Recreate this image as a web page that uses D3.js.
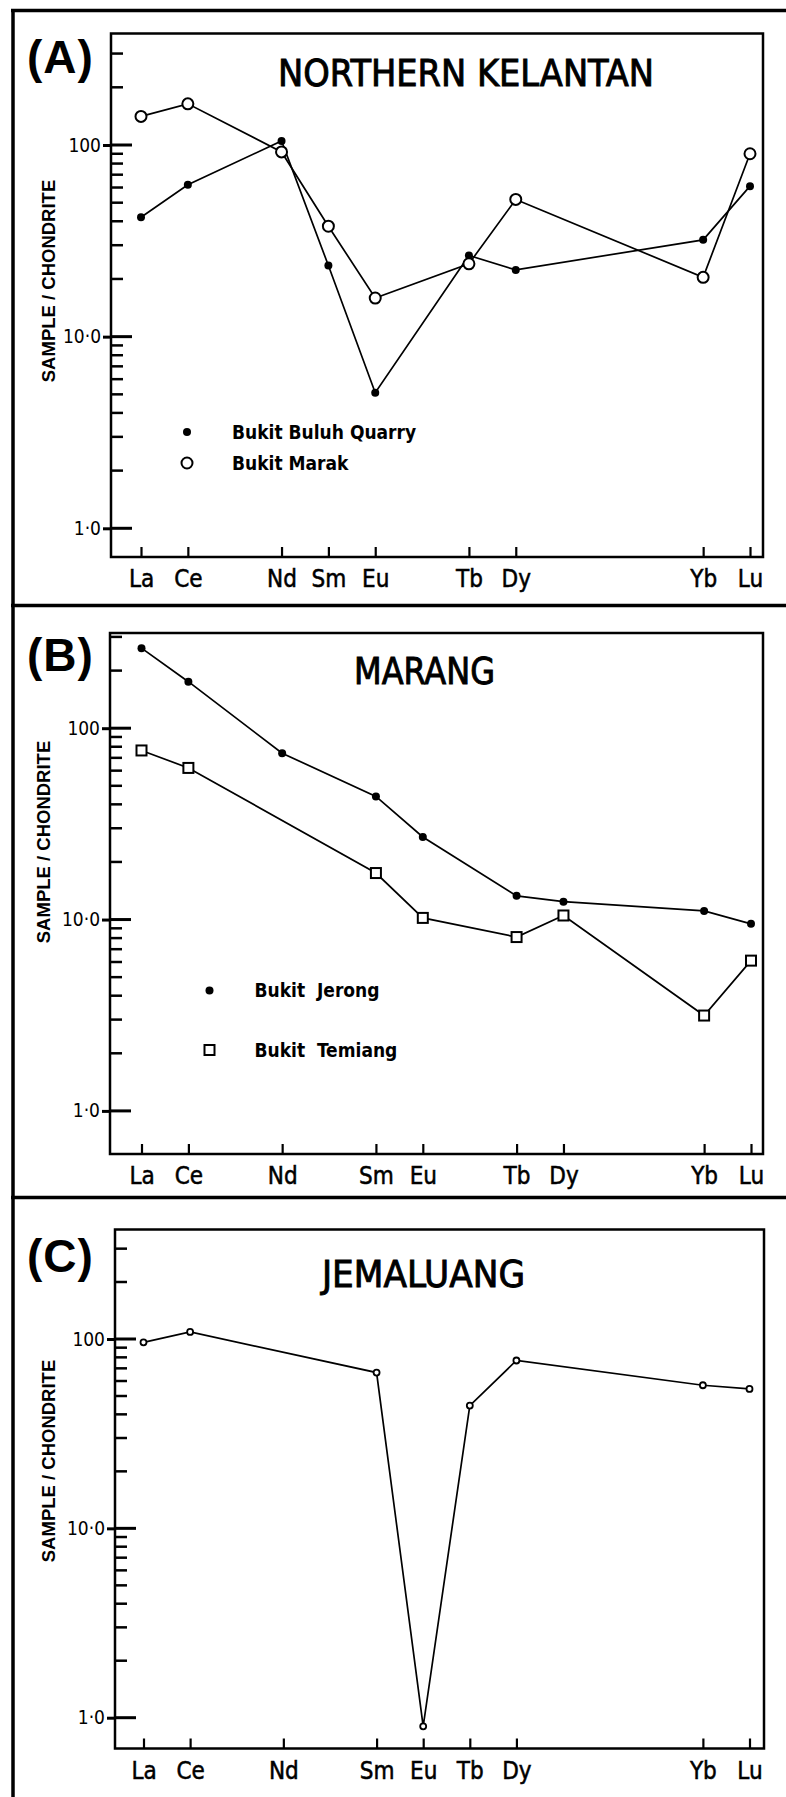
<!DOCTYPE html>
<html>
<head>
<meta charset="utf-8">
<script src="https://cdnjs.cloudflare.com/ajax/libs/d3/7.8.5/d3.min.js"></script>
<style>
  body { margin: 0; background: #fff; }
  svg { display: block; }
</style>
</head>
<body>
<div id="chart"></div>
<script>
// REE order and the slot each one sits at along the x axis (differs per panel)
var elements = ["La", "Ce", "Nd", "Sm", "Eu", "Tb", "Dy", "Yb", "Lu"];
var slotsA = [0, 1, 3, 4, 5, 7, 8, 12, 13];
var slotsB = [0, 1, 3, 5, 6, 8, 9, 12, 13];
var slotsC = [0, 1, 3, 5, 6, 7, 8, 12, 13];

var yTicks = [1, 10, 100];
var yTickLabels = ["1·0", "10·0", "100"];
var minorSteps = [1, 2, 3, 4, 5, 6, 7, 8, 9];

// (A) Northern Kelantan
var bukitBuluhQuarry = [42, 62, 105, 23.5, 5.1, 26.5, 22.3, 32, 61];
var bukitMarak = [141, 164, 92, 37.7, 15.9, 24, 52, 20.4, 90];
// (B) Marang
var bukitJerong = [262, 175, 74, 44, 27, 13.3, 12.4, 11.1, 9.5];
var bukitTemiang = [76.5, 62, null, 17.5, 10.2, 8.1, 10.5, 3.15, 6.1];
// (C) Jemaluang
var jemaluang = [96, 109, null, 66.5, 0.9, 44.5, 77, 57, 54.5];

var W = 786, H = 1797;
var letterFont = '"DejaVu Sans Condensed", "Liberation Sans Narrow", "DejaVu Sans", sans-serif';
var boldFont = '"Liberation Sans", Arial, "DejaVu Sans", sans-serif';

var svg = d3.select("#chart").append("svg")
    .attr("width", W)
    .attr("height", H);

// outer rules: one down the left, one above each panel
svg.append("line")
    .attr("x1", 13).attr("x2", 13)
    .attr("y1", 9).attr("y2", H)
    .attr("stroke", "#000").attr("stroke-width", 3.5);
[10.5, 605.5, 1197.5].forEach(function(yy) {
  svg.append("line")
      .attr("x1", 11).attr("x2", W)
      .attr("y1", yy).attr("y2", yy)
      .attr("stroke", "#000").attr("stroke-width", 3.5);
});

var panels = [
  { letter: "(A)", title: "NORTHERN KELANTAN", slots: slotsA,
    left: 111, right: 763, top: 33.5, bottom: 557, y1: 528.3, y100: 145, x0: 141, x13: 750,
    letterY: 73, titleX: 466, titleY: 86, titleW: 376, labelX: 55, labelY: 281,
    legendX: 187, legendY: [432, 463],
    series: [
      { name: "Bukit Buluh Quarry", values: bukitBuluhQuarry, marker: "dot" },
      { name: "Bukit Marak", values: bukitMarak, marker: "circle" }
    ] },
  { letter: "(B)", title: "MARANG", slots: slotsB,
    left: 110, right: 763, top: 633, bottom: 1154, y1: 1110.9, y100: 728.2, x0: 141.5, x13: 751,
    letterY: 671, titleX: 424.5, titleY: 684, titleW: 141, labelX: 50, labelY: 842,
    legendX: 209.5, legendY: [990.5, 1050],
    series: [
      { name: "Bukit  Jerong", values: bukitJerong, marker: "dot" },
      { name: "Bukit  Temiang", values: bukitTemiang, marker: "square" }
    ] },
  { letter: "(C)", title: "JEMALUANG", slots: slotsC,
    left: 115, right: 764, top: 1229.5, bottom: 1748.5, y1: 1717.7, y100: 1339, x0: 143.5, x13: 749.5,
    letterY: 1272, titleX: 423.5, titleY: 1287, titleW: 203, labelX: 55, labelY: 1461,
    legendX: null, legendY: [],
    series: [
      { name: "Jemaluang", values: jemaluang, marker: "small" }
    ] }
];

function drawMarker(sel, kind) {
  if (kind === "dot") {
    sel.append("circle").attr("r", 4).attr("fill", "#000");
  } else if (kind === "circle") {
    sel.append("circle").attr("r", 5.5).attr("fill", "#fff")
        .attr("stroke", "#000").attr("stroke-width", 2);
  } else if (kind === "square") {
    sel.append("rect").attr("x", -5).attr("y", -5).attr("width", 10).attr("height", 10)
        .attr("fill", "#fff").attr("stroke", "#000").attr("stroke-width", 2);
  } else {
    sel.append("circle").attr("r", 3).attr("fill", "#fff")
        .attr("stroke", "#000").attr("stroke-width", 1.8);
  }
}

panels.forEach(function(p) {
  var g = svg.append("g");

  var x = d3.scaleLinear().domain([0, 13]).range([p.x0, p.x13]);
  var y = d3.scaleLog().domain([1, 100]).range([p.y1, p.y100]);

  // 1..9 in every decade that fits inside the frame
  var minorTicks = [];
  yTicks.forEach(function(dec) {
    minorSteps.forEach(function(m) {
      var v = dec * m;
      if (y(v) > p.top + 3) minorTicks.push({ v: v, major: m === 1 });
    });
  });

  g.append("rect")
      .attr("x", p.left).attr("y", p.top)
      .attr("width", p.right - p.left).attr("height", p.bottom - p.top)
      .attr("fill", "none").attr("stroke", "#000").attr("stroke-width", 2.5);

  var inner = g.append("g").attr("class", "inner-ticks");
  minorTicks.forEach(function(t) {
    inner.append("line")
        .attr("x1", p.left)
        .attr("x2", p.left + (t.major ? 21 : 12))
        .attr("y1", y(t.v))
        .attr("y2", y(t.v))
        .attr("stroke", "#000")
        .attr("stroke-width", t.major ? 3 : 2.5);
  });

  var outer = g.append("g")
      .attr("transform", "translate(" + p.left + ",0)")
      .call(d3.axisLeft(y).tickValues(yTicks).tickSize(8).tickPadding(2)
          .tickFormat(function(d, i) { return yTickLabels[i]; }));
  outer.select(".domain").remove();
  outer.selectAll(".tick line").attr("stroke-width", 3);
  outer.selectAll("text")
      .attr("font-family", letterFont).attr("font-size", 19).attr("fill", "#000");

  var xa = g.append("g")
      .attr("transform", "translate(0," + p.bottom + ")")
      .call(d3.axisBottom(x).tickValues(p.slots).tickSize(-10).tickPadding(13)
          .tickFormat(function(d, i) { return elements[i]; }));
  xa.select(".domain").remove();
  xa.selectAll(".tick line").attr("stroke-width", 2.2);
  xa.selectAll("text")
      .attr("font-family", letterFont).attr("font-size", 24).attr("fill", "#000")
      .attr("stroke", "#000").attr("stroke-width", 0.5);

  g.append("text")
      .attr("x", 27).attr("y", p.letterY)
      .attr("font-family", boldFont).attr("font-weight", "bold")
      .attr("font-size", 46).attr("letter-spacing", 1)
      .text(p.letter);

  g.append("text")
      .attr("x", p.titleX - p.titleW / 2).attr("y", p.titleY)
      .attr("font-family", letterFont)
      .attr("font-size", 38)
      .attr("stroke", "#000").attr("stroke-width", 0.9)
      .attr("textLength", p.titleW)
      .attr("lengthAdjust", "spacingAndGlyphs")
      .text(p.title);

  g.append("text")
      .attr("transform", "translate(" + p.labelX + "," + p.labelY + ") rotate(-90)")
      .attr("text-anchor", "middle")
      .attr("font-family", boldFont).attr("font-weight", "bold")
      .attr("font-size", 18.5)
      .text("SAMPLE / CHONDRITE");

  var line = d3.line()
      .x(function(d) { return x(d.slot); })
      .y(function(d) { return y(d.v); });

  p.series.forEach(function(s) {
    var pts = s.values.map(function(v, i) { return { slot: p.slots[i], v: v }; })
        .filter(function(d) { return d.v != null; });
    s.pts = pts;
    g.append("path")
        .datum(pts)
        .attr("d", line)
        .attr("fill", "none").attr("stroke", "#000").attr("stroke-width", 1.7);
  });

  p.series.forEach(function(s) {
    g.selectAll(null)
        .data(s.pts)
        .enter().append("g")
        .attr("transform", function(d) { return "translate(" + x(d.slot) + "," + y(d.v) + ")"; })
        .each(function() { drawMarker(d3.select(this), s.marker); });
  });

  if (p.legendX != null) {
    p.series.forEach(function(s, i) {
      var lg = g.append("g")
          .attr("transform", "translate(" + p.legendX + "," + p.legendY[i] + ")");
      drawMarker(lg, s.marker);
      lg.append("text")
          .attr("x", 45).attr("dy", "0.36em")
          .attr("font-family", letterFont).attr("font-weight", "bold")
          .attr("font-size", 19)
          .style("white-space", "pre")
          .text(s.name);
    });
  }
});
</script>
</body>
</html>
